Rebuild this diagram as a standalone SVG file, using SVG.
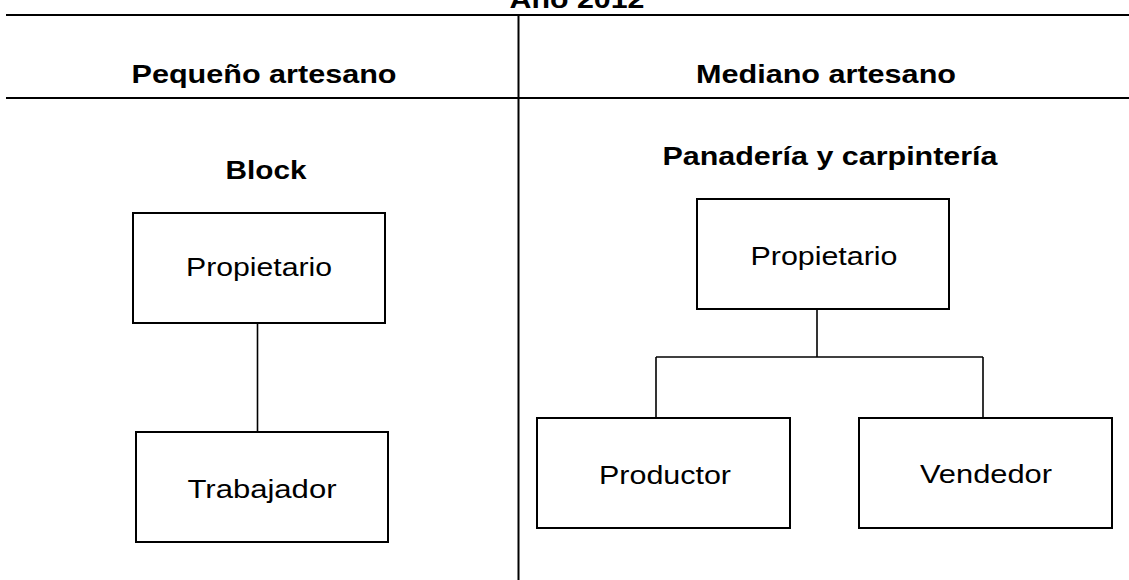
<svg xmlns="http://www.w3.org/2000/svg" width="1129" height="580" viewBox="0 0 1129 580">
<style>
  .frame { stroke: #000; stroke-width: 2; fill: none; }
  .box { fill: #fff; stroke: #000; stroke-width: 2; }
  .conn { stroke: #000; stroke-width: 1.6; fill: none; }
  .t { font-family: "Liberation Sans", Arial, sans-serif; font-size: 25px; fill: #000; text-anchor: middle; }
  .b { font-weight: bold; }
</style>
<rect x="0" y="0" width="1129" height="580" fill="#fff"/>
<g id="frame">
  <line class="frame" x1="6" y1="15" x2="1129" y2="15"/>
  <line class="frame" x1="6" y1="98" x2="1129" y2="98"/>
  <line class="frame" x1="518.5" y1="15" x2="518.5" y2="580"/>
  <text class="t b" x="577" y="8" textLength="135" lengthAdjust="spacingAndGlyphs">Año 2012</text>
  <text class="t b" x="264" y="83" textLength="265" lengthAdjust="spacingAndGlyphs">Pequeño artesano</text>
  <text class="t b" x="826" y="83" textLength="260" lengthAdjust="spacingAndGlyphs">Mediano artesano</text>
  <text class="t b" x="266" y="179" textLength="81" lengthAdjust="spacingAndGlyphs">Block</text>
  <text class="t b" x="830" y="165" textLength="335" lengthAdjust="spacingAndGlyphs">Panadería y carpintería</text>
</g>
<g id="connectors">
  <line class="conn" x1="257.5" y1="323" x2="257.5" y2="432"/>
  <line class="conn" x1="817" y1="309" x2="817" y2="357"/>
  <line class="conn" x1="656" y1="357" x2="983" y2="357"/>
  <line class="conn" x1="656" y1="357" x2="656" y2="418"/>
  <line class="conn" x1="983" y1="357" x2="983" y2="418"/>
</g>
<g id="left-propietario">
  <rect class="box" x="133" y="213" width="252" height="110"/>
  <text class="t" x="259" y="276" textLength="146" lengthAdjust="spacingAndGlyphs">Propietario</text>
</g>
<g id="trabajador">
  <rect class="box" x="136" y="432" width="252" height="110"/>
  <text class="t" x="262" y="498" textLength="149" lengthAdjust="spacingAndGlyphs">Trabajador</text>
</g>
<g id="right-propietario">
  <rect class="box" x="697" y="199" width="252" height="110"/>
  <text class="t" x="824" y="265" textLength="147" lengthAdjust="spacingAndGlyphs">Propietario</text>
</g>
<g id="productor">
  <rect class="box" x="537" y="418" width="253" height="110"/>
  <text class="t" x="665" y="484" textLength="132" lengthAdjust="spacingAndGlyphs">Productor</text>
</g>
<g id="vendedor">
  <rect class="box" x="859" y="418" width="253" height="110"/>
  <text class="t" x="986" y="483" textLength="132" lengthAdjust="spacingAndGlyphs">Vendedor</text>
</g>
</svg>
